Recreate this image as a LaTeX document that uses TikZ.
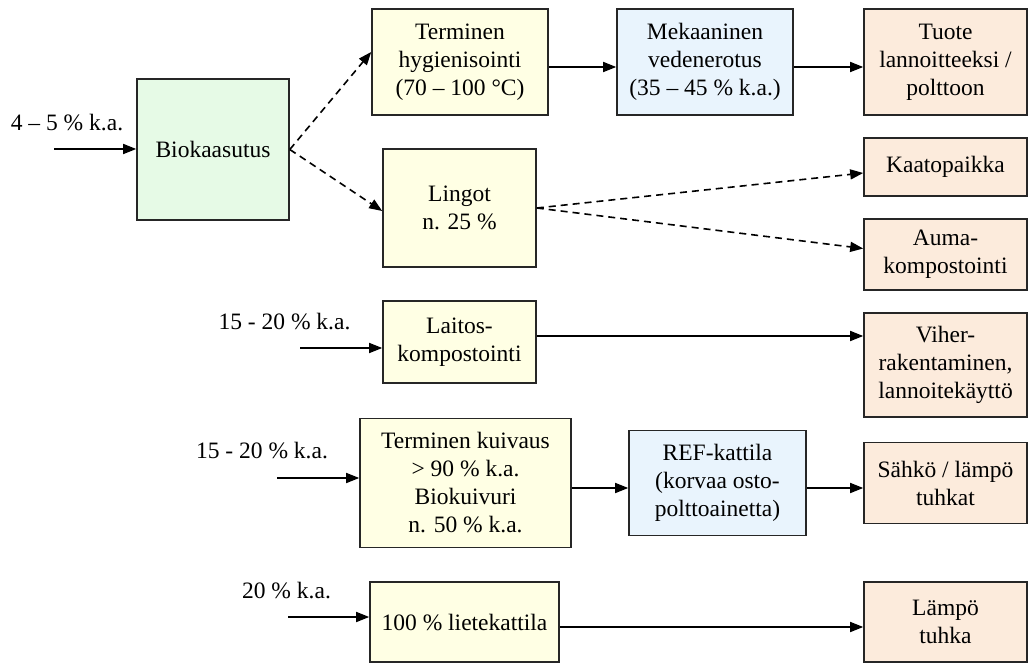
\documentclass[tikz,border=0pt]{standalone}
\usepackage{fontspec}
\setmainfont{Liberation Serif}
\usetikzlibrary{arrows.meta}

\definecolor{fillgreen}{HTML}{E6FAE6}
\definecolor{fillyellow}{HTML}{FFFFE4}
\definecolor{fillblue}{HTML}{E9F4FD}
\definecolor{fillpeach}{HTML}{FCEBDC}
\definecolor{edgegray}{HTML}{262626}

\begin{document}
\begin{tikzpicture}[x=1pt,y=-1pt,
  txt/.style={font=\fontsize{23.5pt}{28pt}\selectfont, inner sep=0pt, align=center},
  box/.style={txt, draw=edgegray, line width=1.6pt},
  green/.style={box, fill=fillgreen},
  yellow/.style={box, fill=fillyellow},
  blue/.style={box, fill=fillblue},
  peach/.style={box, fill=fillpeach, minimum width=163pt},
  arr/.style={line width=1.6pt, draw=black, -{Triangle[length=13pt,width=10pt]}},
  darr/.style={arr, dash pattern=on 7pt off 5pt}
]
\useasboundingbox (0,0) rectangle (1029,663);
\fill[white] (0,0) rectangle (1029,663);

% process boxes
\node[green, minimum width=152pt, minimum height=141pt] (bio) at (213,149.5) {Biokaasutus};
\node[yellow, minimum width=176pt, minimum height=106pt] (ter) at (460,62) {Terminen\\hygienisointi\\(70 – 100 °C)};
\node[blue, minimum width=176pt, minimum height=106pt] (mek) at (705,62) {Mekaaninen\\vedenerotus\\(35 – 45 \% k.a.)};
\node[peach, minimum height=106pt] (tuo) at (945.5,62) {Tuote\\lannoitteeksi /\\polttoon};
\node[yellow, minimum width=153pt, minimum height=118pt] (lin) at (459.5,208) {Lingot\\n. 25 \%};
\node[peach, minimum height=58pt] (kaa) at (945.5,167) {Kaatopaikka};
\node[peach, minimum height=71pt] (aum) at (945.5,254.5) {Auma-\\kompostointi};
\node[yellow, minimum width=153pt, minimum height=82pt] (lai) at (459.5,342) {Laitos-\\kompostointi};
\node[peach, minimum height=104pt] (vih) at (945.5,365) {Viher-\\rakentaminen,\\lannoitekäyttö};
\node[yellow, minimum width=211pt, minimum height=129pt] (kui) at (465.5,483) {Terminen kuivaus\\> 90 \% k.a.\\Biokuivuri\\n. 50 \% k.a.};
\node[blue, minimum width=177pt, minimum height=105pt] (ref) at (717.5,483) {REF-kattila\\(korvaa osto-\\polttoainetta)};
\node[peach, minimum height=81pt] (sah) at (945.5,483) {Sähkö / lämpö\\tuhkat};
\node[yellow, minimum width=189pt, minimum height=80pt] (lie) at (464.5,622) {100 \% lietekattila};
\node[peach, minimum height=80pt] (lam) at (945.5,622) {Lämpö\\tuhka};

% input labels
\node[txt] (l1) at (67,123) {4 – 5 \% k.a.};
\node[txt] (l2) at (284.5,322) {15 - 20 \% k.a.};
\node[txt] (l3) at (262,451) {15 - 20 \% k.a.};
\node[txt] (l4) at (286.5,591) {20 \% k.a.};

% loose ends of the input arrows
\coordinate (i1) at (54,149);
\coordinate (i2) at (300,348);
\coordinate (i3) at (277,478);
\coordinate (i4) at (288,617);

% inputs
\draw[arr] (i1) -- (i1 -| bio.west);
\draw[arr] (i2) -- (i2 -| lai.west);
\draw[arr] (i3) -- (i3 -| kui.west);
\draw[arr] (i4) -- (i4 -| lie.west);

% biogas line
\draw[darr] (bio.east) -- ([yshift=10pt]ter.west);
\draw[darr] (bio.east) -- ([yshift=-3pt]lin.west);
\draw[arr] ([yshift=-5pt]ter.east) -- ([yshift=-5pt]mek.west);
\draw[arr] ([yshift=-5pt]mek.east) -- ([yshift=-5pt]tuo.west);
\draw[darr] (lin.east) -- ([yshift=-6pt]kaa.west);
\draw[darr] (lin.east) -- ([yshift=6pt]aum.west);

% composting line
\draw[arr] ([yshift=6pt]lai.east) -- ([yshift=6pt]lai.east -| vih.west);

% drying line
\draw[arr] ([yshift=-5pt]kui.east) -- ([yshift=-5pt]ref.west);
\draw[arr] ([yshift=-5pt]ref.east) -- ([yshift=-5pt]sah.west);

% incineration line
\draw[arr] ([yshift=-5pt]lie.east) -- ([yshift=-5pt]lam.west);
\end{tikzpicture}
\end{document}
